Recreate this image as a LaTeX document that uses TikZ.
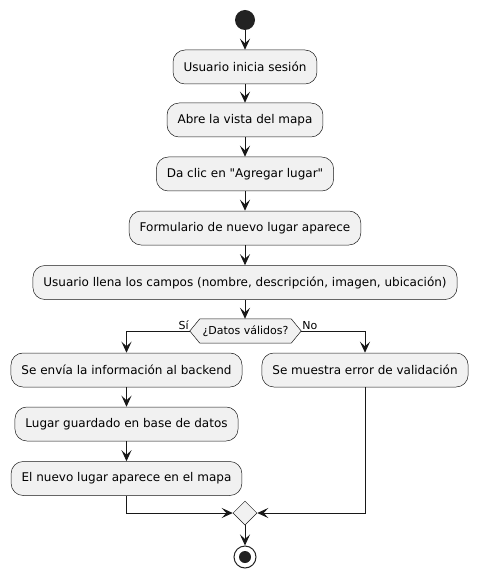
\documentclass[tikz,border=0pt]{standalone}
\usepackage{fontspec}
\setmainfont{DejaVu Sans}[Ligatures=TeXOff]
\usetikzlibrary{arrows.meta,shapes.geometric}
\definecolor{boxfill}{HTML}{F1F1F1}
\definecolor{boxline}{HTML}{181818}
\definecolor{dotcol}{HTML}{222222}
\tikzset{
  actbox/.style={draw=boxline, line width=0.5pt, fill=boxfill, rounded corners=12pt,
    minimum height=34pt, inner xsep=10.5pt, inner ysep=2pt, font=\fontsize{12}{14}\selectfont},
  flow/.style={draw=boxline, line width=1pt, -{Stealth[length=11pt,width=10pt,inset=4.5pt]}},
  lbl/.style={inner sep=1pt, font=\fontsize{11}{13}\selectfont},
  dectext/.style={inner sep=0pt, minimum width=91pt, minimum height=24pt, font=\fontsize{11}{13}\selectfont},
  mergebox/.style={diamond, draw=boxline, line width=0.5pt, fill=boxfill, inner sep=0pt,
    minimum width=24pt, minimum height=24pt},
}
\begin{document}
\begin{tikzpicture}[x=1pt,y=-1pt]
\useasboundingbox (0,0) rectangle (477,577);
\node[circle, fill=dotcol, minimum size=20pt, inner sep=0pt] (start) at (245,20) {};
\node[actbox] (b1) at (245,67) {Usuario inicia sesión};
\node[actbox] (b2) at (245,120) {Abre la vista del mapa};
\node[actbox] (b3) at (245,174) {Da clic en "Agregar lugar"};
\node[actbox] (b4) at (245,228) {Formulario de nuevo lugar aparece};
\node[actbox] (b5) at (245,282.5) {Usuario llena los campos (nombre, descripción, imagen, ubicación)};
\node[dectext] (dec) at (245.5,331) {};
\draw[draw=boxline, line width=0.5pt, fill=boxfill]
  (dec.north west) -- (dec.north east) -- ([xshift=10pt]dec.east) -- (dec.south east)
  -- (dec.south west) -- ([xshift=-10pt]dec.west) -- cycle;
\node[dectext] (dectxt) at (dec) {¿Datos válidos?};
\coordinate (decL) at ([xshift=-10pt]dec.west);
\coordinate (decR) at ([xshift=10pt]dec.east);
\node[actbox] (b6) at (126.5,370) {Se envía la información al backend};
\node[actbox] (err) at (365,370) {Se muestra error de validación};
\node[actbox] (b7) at (126.5,424) {Lugar guardado en base de datos};
\node[actbox] (b8) at (126.5,478.5) {El nuevo lugar aparece en el mapa};
\node[mergebox] (merge) at (245,513) {};
\node[circle, draw=dotcol, line width=1pt, fill=white, minimum size=22pt, inner sep=0pt] (stop) at (245,557) {};
\node[circle, fill=dotcol, minimum size=12pt, inner sep=0pt] (stopdot) at (stop) {};
\node[lbl, anchor=south east] (lsi) at (decL) {Sí};
\node[lbl, anchor=south west] (lno) at (decR) {No};
\draw[flow] (start) -- (b1);
\draw[flow] (b1) -- (b2);
\draw[flow] (b2) -- (b3);
\draw[flow] (b3) -- (b4);
\draw[flow] (b4) -- (b5);
\draw[flow] (b5) -- (dec.north -| b5);
\draw[flow] (decL) -| (b6);
\draw[flow] (decR) -| (err);
\draw[flow] (b6) -- (b7);
\draw[flow] (b7) -- (b8);
\draw[flow] (b8) |- (merge);
\draw[flow] (err) |- (merge);
\draw[flow] (merge) -- (stop);
\end{tikzpicture}
\end{document}
